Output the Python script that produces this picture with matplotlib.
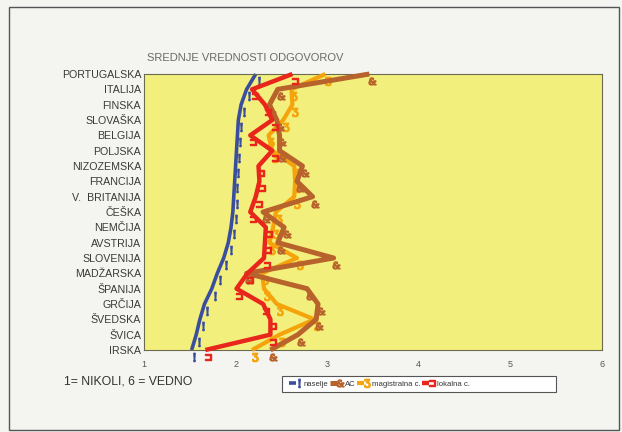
import matplotlib
matplotlib.use("Agg")
import matplotlib.pyplot as plt
import matplotlib.transforms as mtransforms
from matplotlib.patches import Rectangle
from matplotlib.legend_handler import HandlerTuple
from matplotlib.lines import Line2D
from matplotlib.textpath import TextPath
from matplotlib.font_manager import FontProperties
from matplotlib.path import Path

plt.rcParams['font.family'] = ['Liberation Sans', 'DejaVu Sans']

countries = ["PORTUGALSKA", "ITALIJA", "FINSKA", "SLOVAŠKA", "BELGIJA", "POLJSKA",
             "NIZOZEMSKA", "FRANCIJA", "V.  BRITANIJA", "ČEŠKA", "NEMČIJA", "AVSTRIJA",
             "SLOVENIJA", "MADŽARSKA", "ŠPANIJA", "GRČIJA", "ŠVEDSKA", "ŠVICA", "IRSKA"]

naselje = [2.22, 2.12, 2.06, 2.03, 2.02, 2.01, 2.00, 1.99, 1.98, 1.97, 1.95, 1.92,
           1.87, 1.80, 1.74, 1.66, 1.61, 1.57, 1.52]
ac = [3.46, 2.46, 2.37, 2.45, 2.48, 2.48, 2.73, 2.67, 2.84, 2.30, 2.53, 2.46,
      3.07, 2.12, 2.78, 2.90, 2.88, 2.68, 2.38]
magistralna = [2.98, 2.61, 2.62, 2.52, 2.36, 2.40, 2.64, 2.65, 2.64, 2.44, 2.41, 2.37,
               2.67, 2.29, 2.31, 2.45, 2.86, 2.48, 2.18]
lokalna = [2.62, 2.18, 2.32, 2.40, 2.16, 2.40, 2.25, 2.26, 2.22, 2.16, 2.33, 2.32,
           2.31, 2.13, 2.01, 2.30, 2.38, 2.38, 1.67]

series_names = ["naselje", "AC", "magistralna c.", "lokalna c."]
series_values = [naselje, ac, magistralna, lokalna]
colors = ["#3B4E9E", "#B8622C", "#F5A30A", "#E8261B"]
widths = [2.6, 3.6, 3.0, 3.2]
marker_chars = ["!", "&", "ʒ", "⊐"]
zorders = [2, 4, 3, 5]
xticks = [1, 2, 3, 4, 5, 6]


def glyph_marker(ch):
    tp = TextPath((0, 0), ch, size=10, prop=FontProperties(family='DejaVu Serif'))
    ext = tp.get_extents()
    cx = (ext.x0 + ext.x1) / 2
    cy = (ext.y0 + ext.y1) / 2
    verts = tp.vertices.copy()
    verts[:, 0] -= cx
    verts[:, 1] -= cy
    return Path(verts, tp.codes)


fig = plt.figure(figsize=(6.22, 4.32), dpi=100, facecolor="#F4F4F1")
fig.patches.append(Rectangle((9/622, 2/432), 610/622, 423/432, transform=fig.transFigure,
                             fill=False, edgecolor="#555555", linewidth=1.0))

ax = fig.add_axes([144/622, 82/432, 458/622, 276/432])
ax.set_facecolor("#F3EF7C")
ypos = list(range(len(countries)))

handles = []
offset = mtransforms.offset_copy(ax.transData, fig=fig, x=2.0, y=-5.0, units='points')
for name, vals, c, lw, ch, z in zip(series_names, series_values, colors, widths, marker_chars, zorders):
    m = glyph_marker(ch)
    ln, = ax.plot(vals, ypos, color=c, lw=lw, solid_capstyle='butt', zorder=z, clip_on=False)
    ax.plot(vals, ypos, linestyle='none', marker=m, color=c, markersize=6,
            transform=offset, zorder=z - 0.5, clip_on=False)
    proxy_m = Line2D([], [], linestyle='none', marker=m, color=c, markersize=6)
    handles.append((ln, proxy_m))

ax.set_xlim(1, 6)
ax.set_ylim(len(countries) - 1, 0)
ax.set_xticks(xticks)
ax.set_xticklabels([str(t) for t in xticks], fontsize=6.5, color="#555555")
ax.set_yticks(ypos)
ax.set_yticklabels(countries, fontsize=7.7, color="#3A3A3A")
ax.tick_params(axis='both', length=0, pad=2)
ax.tick_params(axis='x', pad=7)
for s in ax.spines.values():
    s.set_color("#6B6B50")
    s.set_linewidth(0.8)

fig.text(147/622, 1 - 58/432, "SREDNJE VREDNOSTI ODGOVOROV", fontsize=8, color="#6A6A6A",
         va='center', ha='left')
fig.text(64/622, 1 - 381/432, "1= NIKOLI, 6 = VEDNO", fontsize=8.8, color="#333333",
         va='center', ha='left')

fig.patches.append(Rectangle((282/622, 1 - 392/432), 274/622, 16/432, transform=fig.transFigure,
                             facecolor="#FFFFFF", edgecolor="#555555", linewidth=0.8, zorder=1))
leg = fig.legend(handles, series_names, ncol=4, loc='center left',
                 bbox_to_anchor=(285/622, 1 - 384/432), fontsize=5.6,
                 handler_map={tuple: HandlerTuple(ndivide=None)},
                 frameon=False, handlelength=1.8, handletextpad=0.1,
                 columnspacing=0.2, borderpad=0.0, labelcolor="#333333")

fig.savefig("out.png", dpi=100, facecolor=fig.get_facecolor())
